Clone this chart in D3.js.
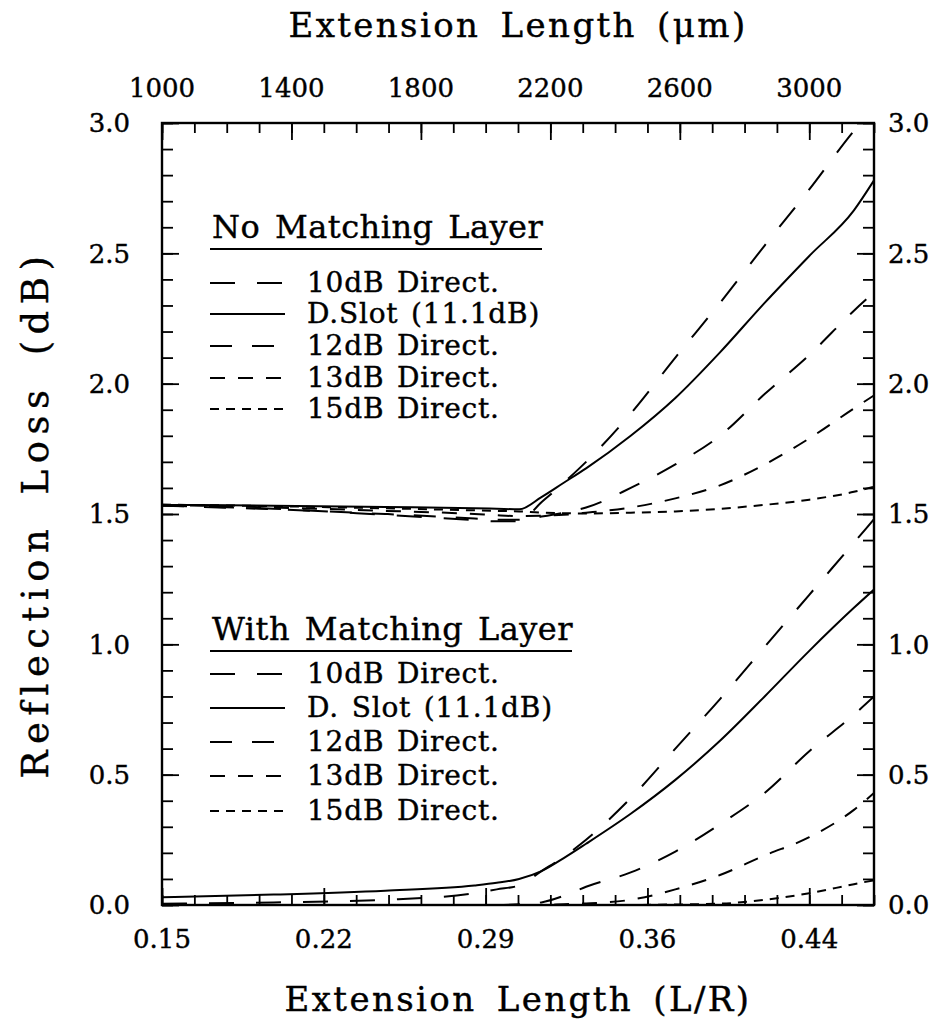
<!DOCTYPE html>
<html>
<head>
<meta charset="utf-8">
<script src="https://cdn.jsdelivr.net/npm/d3@7"></script>
<style>
  body { margin: 0; background: #fff; }
  text { font-family: "DejaVu Serif", serif; fill: #000; stroke: #000; stroke-width: 0.4px; }
</style>
</head>
<body>
<div id="chart"></div>
<script>
/**
 * Data
 */

// extension length L/R (bottom axis)
const xLR = [0.15, 0.20, 0.25, 0.29, 0.30, 0.31, 0.32, 0.33, 0.34, 0.36, 0.38, 0.40, 0.42, 0.44, 0.46, 0.469]

// no matching layer
const noMatch10dB = [1.532, 1.520, 1.497, 1.477, 1.472, 1.472, 1.545, 1.62, 1.70, 1.885, 2.10, 2.31, 2.53, 2.745, 2.97, 3.06]
const noMatchSlot = [1.535, 1.532, 1.527, 1.522, 1.520, 1.518, 1.565, 1.62, 1.675, 1.80, 1.945, 2.12, 2.31, 2.49, 2.665, 2.78]
const noMatch12dB = [1.532, 1.518, 1.500, 1.483, 1.478, 1.478, 1.49, 1.505, 1.525, 1.60, 1.69, 1.80, 1.96, 2.11, 2.28, 2.35]
const noMatch13dB = [1.535, 1.525, 1.512, 1.500, 1.495, 1.492, 1.493, 1.497, 1.505, 1.525, 1.56, 1.61, 1.69, 1.79, 1.905, 1.955]
const noMatch15dB = [1.536, 1.530, 1.522, 1.514, 1.512, 1.510, 1.505, 1.503, 1.502, 1.505, 1.51, 1.52, 1.535, 1.555, 1.585, 1.605]

// with matching layer
const withMatch10dB = [0.005, 0.01, 0.02, 0.045, 0.06, 0.075, 0.13, 0.185, 0.25, 0.41, 0.60, 0.79, 0.99, 1.19, 1.39, 1.48]
const withMatchSlot = [0.03, 0.04, 0.055, 0.075, 0.085, 0.10, 0.13, 0.18, 0.235, 0.35, 0.48, 0.63, 0.80, 0.975, 1.14, 1.21]
const withMatch12dB = [0, 0, 0, 0, 0, 0.003, 0.01, 0.035, 0.07, 0.125, 0.205, 0.31, 0.43, 0.59, 0.73, 0.80]
const withMatch13dB = [0, 0, 0, 0, 0, 0, 0, 0.003, 0.006, 0.02, 0.06, 0.115, 0.19, 0.26, 0.365, 0.43]
const withMatch15dB = [0, 0, 0, 0, 0, 0, 0, 0, 0, 0, 0.002, 0.005, 0.02, 0.045, 0.08, 0.095]

// ticks
const bottomTicks = [0.15, 0.2225, 0.295, 0.3675, 0.44]
const bottomLabels = ["0.15", "0.22", "0.29", "0.36", "0.44"]
const topTicks = [1000, 1400, 1800, 2200, 2600, 3000]
const yTicks = [0.0, 0.5, 1.0, 1.5, 2.0, 2.5, 3.0]

const legendNames1 = ["10dB Direct.", "D.Slot (11.1dB)", "12dB Direct.", "13dB Direct.", "15dB Direct."]
const legendNames2 = ["10dB Direct.", "D. Slot (11.1dB)", "12dB Direct.", "13dB Direct.", "15dB Direct."]
const dashes = ["25,22", null, "22,20", "15,13", "9,7"]

/**
 * Sizes
 */

const margin = { top: 123, right: 78, bottom: 120, left: 162 }
const sizes = {
    width: 952 - margin.left - margin.right,
    height: 1025 - margin.top - margin.bottom
}

let svg = d3.select("#chart")
    .append("svg")
        .attr("width", 952)
        .attr("height", 1025)

let g = svg.append("g")
    .attr("transform", "translate(" + margin.left + "," + margin.top + ")")

/**
 * Scales
 */

let x = d3.scaleLinear()
    .domain([0.15, 0.469])
    .range([0, sizes.width])

let xTop = d3.scaleLinear()
    .domain([1000, 3200])
    .range([0, sizes.width])

let y = d3.scaleLinear()
    .domain([0, 3])
    .range([sizes.height, 0])

// minor tick values
const xMinor = d3.range(0, 23).map(i => 0.15 + i * 0.0145).filter(v => v <= 0.469)
const topMinor = d3.range(1000, 3201, 100)
const yMinor = d3.range(0, 31).map(i => i / 10)

/**
 * Axes (ticks point into the plot)
 */

function tickAxis(axisFn, scale, values, size, transform) {
    g.append("g")
        .attr("transform", transform)
        .call(axisFn(scale).tickValues(values).tickSize(size).tickFormat(""))
        .call(a => a.select(".domain").remove())
        .call(a => a.selectAll("line").attr("stroke", "#000").attr("stroke-width", 1.8))
}

tickAxis(d3.axisBottom, x, xMinor, -10, "translate(0," + sizes.height + ")")
tickAxis(d3.axisBottom, x, bottomTicks, -17, "translate(0," + sizes.height + ")")
tickAxis(d3.axisTop, xTop, topMinor, -10, "translate(0,0)")
tickAxis(d3.axisTop, xTop, topTicks, -17, "translate(0,0)")
tickAxis(d3.axisLeft, y, yMinor, -11, "translate(0,0)")
tickAxis(d3.axisLeft, y, yTicks, -17, "translate(0,0)")
tickAxis(d3.axisRight, y, yMinor, -11, "translate(" + sizes.width + ",0)")
tickAxis(d3.axisRight, y, yTicks, -17, "translate(" + sizes.width + ",0)")

// frame
g.append("rect")
    .attr("width", sizes.width)
    .attr("height", sizes.height)
    .attr("fill", "none")
    .attr("stroke", "#000")
    .attr("stroke-width", 2.4)

// tick labels
g.selectAll(".bl").data(bottomTicks).enter().append("text")
    .attr("x", d => x(d))
    .attr("y", sizes.height + 43)
    .attr("text-anchor", "middle")
    .style("font-size", "26px")
    .text((d, i) => bottomLabels[i])

g.selectAll(".tl").data(topTicks).enter().append("text")
    .attr("x", d => xTop(d))
    .attr("y", -26)
    .attr("text-anchor", "middle")
    .style("font-size", "26px")
    .text(d => d)

g.selectAll(".yl").data(yTicks).enter().append("text")
    .attr("x", -32)
    .attr("y", d => y(d))
    .attr("dy", "0.36em")
    .attr("text-anchor", "end")
    .style("font-size", "26px")
    .text(d => d.toFixed(1))

g.selectAll(".yr").data(yTicks).enter().append("text")
    .attr("x", sizes.width + 14)
    .attr("y", d => y(d))
    .attr("dy", "0.36em")
    .style("font-size", "26px")
    .text(d => d.toFixed(1))

// axis titles
svg.append("text")
    .attr("x", margin.left + sizes.width / 2)
    .attr("y", 1011)
    .attr("text-anchor", "middle")
    .style("font-size", "34px")
    .style("letter-spacing", "2.4px")
    .style("word-spacing", "7px")
    .text("Extension Length (L/R)")

svg.append("text")
    .attr("x", margin.left + sizes.width / 2)
    .attr("y", 37)
    .attr("text-anchor", "middle")
    .style("font-size", "34px")
    .style("letter-spacing", "2.4px")
    .style("word-spacing", "7px")
    .text("Extension Length (\u03bcm)")

svg.append("text")
    .attr("transform", "translate(48," + (margin.top + sizes.height / 2) + ") rotate(-90)")
    .attr("text-anchor", "middle")
    .style("font-size", "37px")
    .style("letter-spacing", "6.5px")
    .style("word-spacing", "10px")
    .text("Reflection Loss (dB)")

/**
 * Curves
 */

g.append("clipPath").attr("id", "clip")
    .append("rect").attr("width", sizes.width).attr("height", sizes.height)

const line = d3.line()
    .x(d => x(d[0]))
    .y(d => y(d[1]))
    .curve(d3.curveMonotoneX)

const series = [
    noMatch10dB, noMatchSlot, noMatch12dB, noMatch13dB, noMatch15dB,
    withMatch10dB, withMatchSlot, withMatch12dB, withMatch13dB, withMatch15dB
]

let curves = g.append("g").attr("clip-path", "url(#clip)")

series.forEach((vals, i) => {
    curves.append("path")
        .datum(xLR.map((v, j) => [v, vals[j]]))
        .attr("d", line)
        .attr("fill", "none")
        .attr("stroke", "#000")
        .attr("stroke-width", 2)
        .attr("stroke-dasharray", dashes[i % 5])
})

/**
 * Legends
 */

function legend(title, names, titleY, underlineEnd, rowYs) {
    let lg = svg.append("g")
    lg.append("text")
        .attr("x", 212)
        .attr("y", titleY)
        .style("font-size", "32px")
        .style("letter-spacing", "0.5px")
        .style("word-spacing", "4px")
        .text(title)
    lg.append("line")
        .attr("x1", 210).attr("x2", underlineEnd)
        .attr("y1", titleY + 11).attr("y2", titleY + 11)
        .attr("stroke", "#000").attr("stroke-width", 2)
    names.forEach((n, i) => {
        lg.append("line")
            .attr("x1", 210).attr("x2", 285)
            .attr("y1", rowYs[i] - 9).attr("y2", rowYs[i] - 9)
            .attr("stroke", "#000").attr("stroke-width", 2)
            .attr("stroke-dasharray", dashes[i])
        lg.append("text")
            .attr("x", 307)
            .attr("y", rowYs[i])
            .style("font-size", "28px")
            .style("letter-spacing", "0.8px")
            .style("word-spacing", "3px")
            .text(n)
    })
}

legend("No Matching Layer", legendNames1, 238, 542, [292, 323, 355, 387, 418])
legend("With Matching Layer", legendNames2, 640, 572, [683, 717, 751, 785, 820])
</script>
</body>
</html>
